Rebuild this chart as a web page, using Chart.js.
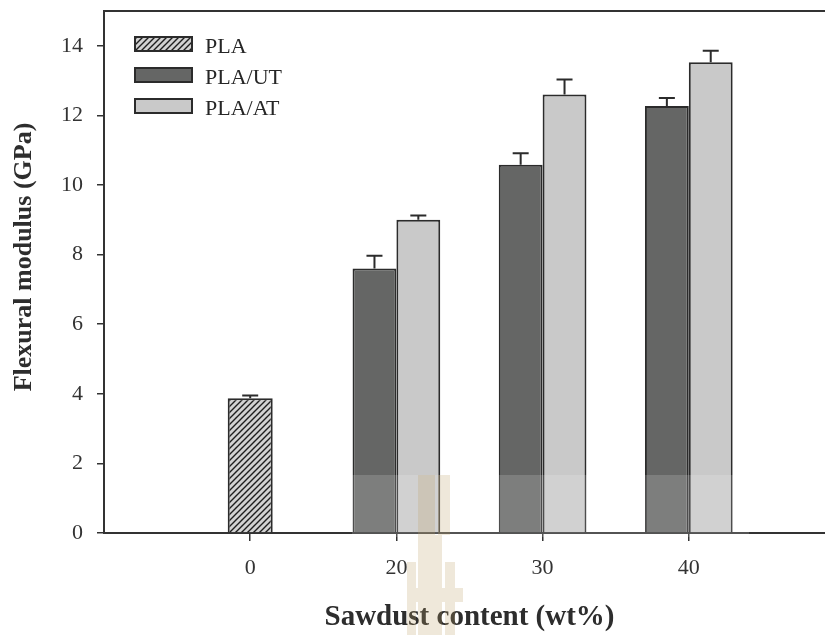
<!DOCTYPE html>
<html>
<head>
<meta charset="utf-8">
<script src="https://cdn.jsdelivr.net/npm/chart.js@4.4.1/dist/chart.umd.min.js"></script>
<style>
  html, body { margin: 0; padding: 0; background: #ffffff; overflow: hidden; }
  #wrap { width: 825px; height: 635px; overflow: hidden; }
  canvas { display: block; }
</style>
</head>
<body>
<div id="wrap"><canvas id="c" width="845" height="635"></canvas></div>
<script>
// Flexural modulus of PLA and PLA/sawdust composites
const categories = ['0', '20', '30', '40'];
const seriesNames = ['PLA', 'PLA/UT', 'PLA/AT'];
const plaValues = [3.87, null, null, null];
const plaErrors = [0.08, null, null, null];
const utValues = [null, 7.6, 10.58, 12.27];
const utErrors = [null, 0.37, 0.33, 0.23];
const atValues = [null, 9.0, 12.6, 13.53];
const atErrors = [null, 0.12, 0.43, 0.33];
const yTicks = [0, 2, 4, 6, 8, 10, 12, 14];
const xTitle = 'Sawdust content (wt%)';
const yTitle = 'Flexural modulus (GPa)';

const SERIF = "'Liberation Serif', 'Times New Roman', serif";
const INK = '#2b2b2b';

// an empty slot either side of the categories leaves room along the axis
const labels = ['', ...categories, ''];
const pad = arr => [null, ...arr, null];

// diagonal hatch fill for the neat PLA bar
function hatchPattern() {
  const t = document.createElement('canvas');
  t.width = 6; t.height = 6;
  const g = t.getContext('2d');
  g.fillStyle = '#d2d2d2';
  g.fillRect(0, 0, 6, 6);
  g.strokeStyle = '#1e1e1e';
  g.lineWidth = 1.4;
  g.beginPath();
  g.moveTo(-1, 7); g.lineTo(7, -1);
  g.moveTo(-1, 1); g.lineTo(1, -1);
  g.moveTo(5, 7); g.lineTo(7, 5);
  g.stroke();
  return g.createPattern(t, 'repeat');
}

const datasets = [
  { label: seriesNames[0], data: pad(plaValues), errors: pad(plaErrors), backgroundColor: hatchPattern() },
  { label: seriesNames[1], data: pad(utValues), errors: pad(utErrors), backgroundColor: '#656665' },
  { label: seriesNames[2], data: pad(atValues), errors: pad(atErrors), backgroundColor: '#c9c9c9' }
].map(d => Object.assign(d, { borderColor: INK, borderWidth: 2, borderSkipped: 'start' }));

// upper error bars with caps
const errorBars = {
  id: 'errorBars',
  afterDatasetsDraw(chart) {
    const ctx = chart.ctx;
    const yScale = chart.scales.y;
    ctx.save();
    ctx.strokeStyle = INK;
    ctx.lineWidth = 2;
    chart.data.datasets.forEach((ds, i) => {
      const meta = chart.getDatasetMeta(i);
      meta.data.forEach((bar, j) => {
        const v = ds.data[j], e = ds.errors[j];
        if (v == null || e == null) return;
        const yTop = yScale.getPixelForValue(v);
        const yErr = yScale.getPixelForValue(v + e);
        ctx.beginPath();
        ctx.moveTo(bar.x, yTop);
        ctx.lineTo(bar.x, yErr);
        ctx.moveTo(bar.x - 8, yErr);
        ctx.lineTo(bar.x + 8, yErr);
        ctx.stroke();
      });
    });
    ctx.restore();
  }
};

// top frame line, inset legend and vertical axis title
const decorations = {
  id: 'decorations',
  afterDraw(chart) {
    const ctx = chart.ctx;
    const { left, right, top, bottom } = chart.chartArea;
    ctx.save();
    ctx.strokeStyle = '#333333';
    ctx.lineWidth = 2;
    ctx.beginPath();
    ctx.moveTo(left - 1, top);
    ctx.lineTo(right, top);
    ctx.stroke();

    ctx.font = '22px ' + SERIF;
    ctx.textAlign = 'left';
    ctx.textBaseline = 'alphabetic';
    chart.data.datasets.forEach((ds, i) => {
      const bx = left + 31, by = top + 26 + i * 31;
      ctx.fillStyle = ds.backgroundColor;
      ctx.fillRect(bx, by, 57, 14);
      ctx.strokeStyle = INK;
      ctx.lineWidth = 2;
      ctx.strokeRect(bx, by, 57, 14);
      ctx.fillStyle = '#262626';
      ctx.fillText(ds.label, bx + 70, by + 16);
    });

    ctx.translate(24, (top + bottom) / 2 - 15);
    ctx.rotate(-Math.PI / 2);
    ctx.textAlign = 'center';
    ctx.textBaseline = 'middle';
    ctx.font = 'bold 26px ' + SERIF;
    ctx.fillStyle = '#2d2d2d';
    ctx.fillText(yTitle, 0, 0);
    ctx.restore();
  }
};

// faint repository watermark over the lower middle of the figure
const watermark = {
  id: 'watermark',
  afterDraw(chart) {
    const ctx = chart.ctx;
    ctx.save();
    ctx.fillStyle = 'rgba(255,255,255,0.16)';
    ctx.fillRect(352, 475, 397, 62);
    ctx.fillStyle = 'rgba(190,160,100,0.24)';
    ctx.beginPath();
    ctx.rect(418, 475, 17, 60);
    ctx.rect(438, 475, 12, 60);
    ctx.rect(418, 535, 24, 100);
    ctx.rect(407, 562, 9, 73);
    ctx.rect(445, 562, 10, 73);
    ctx.rect(407, 588, 56, 14);
    ctx.fill();
    ctx.restore();
  }
};

new Chart(document.getElementById('c'), {
  type: 'bar',
  data: { labels, datasets },
  options: {
    responsive: false,
    animation: false,
    devicePixelRatio: 1,
    skipNull: true,
    categoryPercentage: 0.6,
    barPercentage: 1.0,
    maxBarThickness: 45,
    layout: { padding: { left: 0, right: 10, top: 11, bottom: 0 } },
    plugins: { legend: { display: false }, tooltip: { enabled: false } },
    scales: {
      x: {
        type: 'category',
        offset: false,
        border: { display: true, color: '#333333', width: 2 },
        grid: {
          offset: false,
          drawOnChartArea: false,
          drawTicks: true,
          tickLength: 8,
          lineWidth: 1.5,
          color: c => (c.tick && c.tick.label !== '') ? '#333333' : 'rgba(0,0,0,0)'
        },
        ticks: { color: '#333333', font: { family: SERIF, size: 22 }, padding: 14, autoSkip: false, maxRotation: 0 },
        title: {
          display: true, text: xTitle, color: '#2d2d2d',
          font: { family: SERIF, size: 29, weight: 'bold' },
          padding: { top: 0, bottom: 0 }
        },
        afterFit: s => { s.height = 102; s.paddingLeft = 0; s.paddingRight = 0; }
      },
      y: {
        min: 0,
        max: 15,
        afterBuildTicks: s => { s.ticks = yTicks.map(v => ({ value: v })); },
        border: { display: true, color: '#333333', width: 2 },
        grid: { drawOnChartArea: false, drawTicks: true, tickLength: 7, lineWidth: 1.5, color: '#333333' },
        ticks: { color: '#333333', font: { family: SERIF, size: 22 }, padding: 14 },
        afterFit: s => { s.width = 104; s.paddingTop = 0; s.paddingBottom = 0; }
      }
    }
  },
  plugins: [errorBars, decorations, watermark]
});
</script>
</body>
</html>
